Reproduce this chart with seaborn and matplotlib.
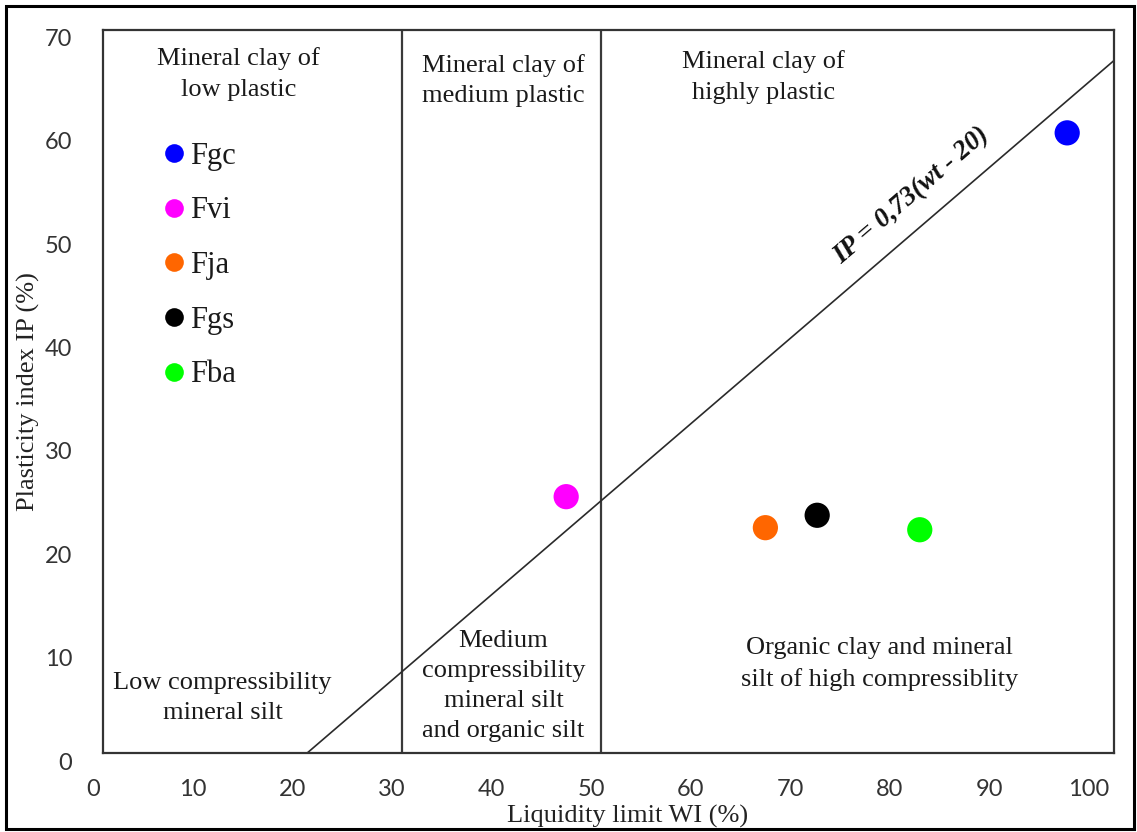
import matplotlib
matplotlib.use("Agg")
import matplotlib.pyplot as plt
import matplotlib.transforms as mtransforms
from matplotlib.patches import Rectangle
import seaborn as sns
import pandas as pd

# Soil samples: liquidity limit WI (%) and plasticity index IP (%)
samples = ["Fgc", "Fvi", "Fja", "Fgs", "Fba"]
liquidity_limit = [96.8, 46.5, 66.5, 71.7, 82.0]
plasticity_index = [60.0, 24.8, 21.8, 23.0, 21.6]
sample_colors = ["#0000FF", "#FF00FF", "#FF6600", "#000000", "#00FF00"]

# A-line as traced on the chart
aline_wl = [20.5, 101.5]
aline_ip = [0.0, 67.0]

# Liquidity-limit boundaries between plasticity classes
zone_limits = [30, 50]

x_ticks = list(range(0, 101, 10))
y_ticks = list(range(0, 71, 10))

sns.set_theme(style="white")
plt.rcParams["font.family"] = ["Liberation Serif", "DejaVu Serif"]

df = pd.DataFrame({"sample": samples, "wl": liquidity_limit, "ip": plasticity_index})
palette = dict(zip(samples, sample_colors))

fig = plt.figure(figsize=(11.37, 8.32), dpi=100)
ax = fig.add_axes([103 / 1137, 79 / 832, 1011 / 1137, 723.5 / 832])

# zone boundaries and A-line
for wl in zone_limits:
    ax.axvline(wl, color="#3a3a3a", lw=1.6, zorder=1)
sns.lineplot(x=aline_wl, y=aline_ip, ax=ax, color="#2a2a2a", lw=1.2, zorder=1)

sns.scatterplot(data=df, x="wl", y="ip", hue="sample", hue_order=samples,
                palette=palette, s=330, edgecolor="none", ax=ax, zorder=3)

ax.set_xlim(0, 101.5)
ax.set_ylim(0, 70)
ax.set_xticks(x_ticks)
ax.set_yticks(y_ticks)
ax.tick_params(axis="both", length=0, labelsize=17, labelcolor="#333333")
ax.tick_params(axis="y", pad=22)
ax.tick_params(axis="x", pad=19)
for lab in ax.get_xticklabels() + ax.get_yticklabels():
    lab.set_family(["Lato", "DejaVu Sans"])
off_y = mtransforms.ScaledTranslation(0, -0.08, fig.dpi_scale_trans)
for lab in ax.get_yticklabels():
    lab.set_transform(lab.get_transform() + off_y)
off_x = mtransforms.ScaledTranslation(-0.10, 0, fig.dpi_scale_trans)
for lab in ax.get_xticklabels():
    lab.set_transform(lab.get_transform() + off_x)

for sp in ax.spines.values():
    sp.set_color("#333333")
    sp.set_linewidth(1.6)

ax.set_xlabel("Liquidity limit WI (%)", fontsize=19, color="#222222")
ax.set_ylabel("Plasticity index IP (%)", fontsize=19, color="#222222")
ax.xaxis.set_label_coords(0.519, -0.072)
ax.yaxis.set_label_coords(-0.062, 0.5)

zone_text = dict(fontsize=19, ha="center", va="center", multialignment="center",
                 linespacing=1.48, color="#1a1a1a", zorder=2)
ax.text(13.6, 65.7, "Mineral clay of\nlow plastic", **zone_text)
ax.text(40.2, 65.1, "Mineral clay of\nmedium plastic", **zone_text)
ax.text(66.3, 65.4, "Mineral clay of\nhighly plastic", **zone_text)
ax.text(12.0, 5.3, "Low compressibility\nmineral silt", **zone_text)
ax.text(40.2, 6.5, "Medium\ncompressibility\nmineral silt\nand organic silt", **zone_text)
ax.text(78.0, 8.6, "Organic clay and mineral\nsilt of high compressiblity", **zone_text)

ax.text(81.2, 53.9, "IP = 0,73(wt - 20)", fontsize=19.5, fontweight="bold", fontstyle="italic",
        rotation=40.6, rotation_mode="anchor", ha="center", va="center", color="#111111")

leg = ax.legend(loc="upper left", bbox_to_anchor=(0.045, 0.866), frameon=False,
                fontsize=22, markerscale=0.74, handlelength=0.7, handletextpad=0.15,
                labelspacing=0.84, borderpad=0)
for t in leg.get_texts():
    t.set_color("#1a1a1a")

fig.add_artist(Rectangle((6 / 1137, 3 / 832), 1128 / 1137, 823 / 832,
                         transform=fig.transFigure, fill=False, lw=2.2, ec="black"))

fig.savefig("out.png", dpi=100)
